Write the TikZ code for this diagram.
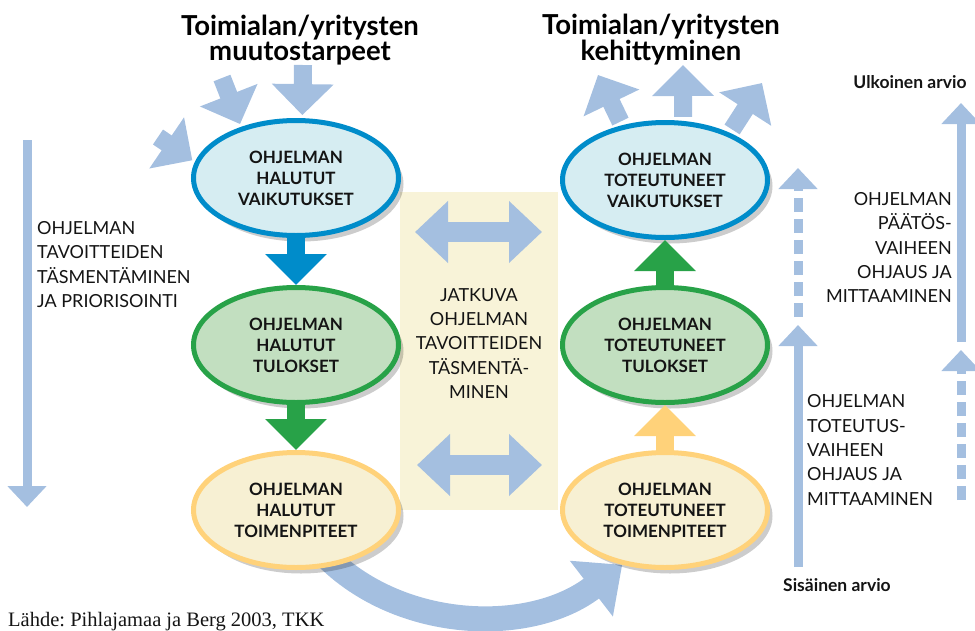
\documentclass[tikz,border=0pt]{standalone}
\usepackage{fontspec}
\setmainfont{Lato}
\newfontfamily\sourcefont{Liberation Serif}
\usetikzlibrary{arrows.meta,
                shapes.geometric,
                shadows}

\definecolor{vaikline}{RGB}{0,140,202}
\definecolor{vaikfill}{RGB}{214,237,242}
\definecolor{tulline}{RGB}{40,162,72}
\definecolor{tulfill}{RGB}{194,223,192}
\definecolor{toimline}{RGB}{255,210,122}
\definecolor{toimfill}{RGB}{247,240,211}
\definecolor{lightarrow}{RGB}{164,191,224}
\definecolor{panelfill}{RGB}{248,243,216}
\definecolor{txt}{RGB}{20,20,20}

\pgfdeclarelayer{bg}
\pgfsetlayers{bg,main}
\frenchspacing

\begin{document}
\begin{tikzpicture}%
    [x = 1pt, y = -1pt,
     goal/.style = {ellipse, line width = 5pt, minimum width = 205pt, minimum height = 115pt,
                    inner sep = 0pt, align = center, text = txt,
                    font = \fontsize{17}{21}\selectfont\bfseries,
                    drop shadow = {shadow xshift = 5pt, shadow yshift = -6pt, opacity = 0.2, fill = black}},
     vaik/.style  = {goal, draw = vaikline, fill = vaikfill},
     tulos/.style = {goal, draw = tulline, fill = tulfill},
     toim/.style  = {goal, draw = toimline, fill = toimfill},
     fat/.style   = {line width = 18pt, -{Triangle[width = 60pt, length = 31pt]}},
     wide/.style  = {fat, lightarrow, shorten > = 3pt},
     both/.style  = {line width = 20pt, lightarrow,
                     {Triangle[width = 60pt, length = 33pt]}-{Triangle[width = 60pt, length = 33pt]}},
     side/.style  = {line width = 9pt, lightarrow, -{Triangle[width = 38pt, length = 21pt]}},
     sidedash/.style = {side, dash pattern = on 14pt off 7pt},
     caps/.style  = {text = txt, inner sep = 0pt, font = \fontsize{18}{24.3}\selectfont},
     arvio/.style = {text = txt, inner sep = 0pt, font = \fontsize{17.5}{17.5}\selectfont\bfseries},
     heading/.style = {text = black, inner sep = 0pt, align = center,
                       font = \fontsize{27.5}{25}\selectfont\bfseries}]
    \useasboundingbox (0,0) rectangle (975,630);

    % halutut
    \node [vaik]  (hvaik) at (296,178) {OHJELMAN\\HALUTUT\\VAIKUTUKSET};
    \node [tulos] (htul)  at (296,345) {OHJELMAN\\HALUTUT\\TULOKSET};
    \node [toim]  (htoim) at (296,510) {OHJELMAN\\HALUTUT\\TOIMENPITEET};
    % toteutuneet
    \node [vaik]  (tvaik) at (665,180) {OHJELMAN\\TOTEUTUNEET\\VAIKUTUKSET};
    \node [tulos] (ttul)  at (665,345) {OHJELMAN\\TOTEUTUNEET\\TULOKSET};
    \node [toim]  (ttoim) at (665,510) {OHJELMAN\\TOTEUTUNEET\\TOIMENPITEET};

    \draw [fat, vaikline] (hvaik) -- (htul);
    \draw [fat, tulline]  (htul) -- (htoim);
    \draw [fat, toimline] (ttoim) -- (ttul);
    \draw [fat, tulline]  (ttul) -- (tvaik);

    \node [heading] (muutos)  at (300,40) {Toimialan/yritysten\\muutostarpeet};
    \node [heading] (kehitys) at (661,40) {Toimialan/yritysten\\kehittyminen};

    % tarpeet sisaan, kehitys ulos
    \coordinate (in1) at (158,137);
    \coordinate (in2) at (222,78);
    \coordinate (in3) at (303,65);
    \draw [wide] (in1) -- (hvaik.171);
    \draw [wide] (in2) -- (hvaik.137);
    \draw [wide] (in3) -- (hvaik.84);
    \coordinate (out1) at (598,75);
    \coordinate (out2) at (683,65);
    \coordinate (out3) at (762,83);
    \draw [wide, shorten > = 0pt, shorten < = 4pt] (tvaik.128) -- (out1);
    \draw [wide, shorten > = 0pt, shorten < = 4pt] (tvaik.73) -- (out2);
    \draw [wide, shorten > = 0pt, shorten < = 4pt] (tvaik.36) -- (out3);

    % vasen reuna
    \coordinate (ltop) at (27,140);
    \coordinate (lbot) at (27,507);
    \draw [side] (ltop) -- (lbot);
    \node [caps, anchor = west, align = left] (tasment) at (37,264.5)
        {OHJELMAN\\TAVOITTEIDEN\\TÄSMENTÄMINEN\\JA PRIORISOINTI};

    % oikea reuna
    \coordinate (sbot) at (798,567);
    \coordinate (smid) at (798,325);
    \coordinate (sdash) at (798,317);
    \coordinate (stop) at (798,168);
    \draw [side] (sbot) -- (smid);
    \draw [sidedash] (sdash) -- (stop);
    \coordinate (ubot) at (961,500);
    \coordinate (umid) at (961,350);
    \coordinate (ulow) at (961,342);
    \coordinate (utop) at (961,103);
    \draw [sidedash] (ubot) -- (umid);
    \draw [side] (ulow) -- (utop);
    \node [caps, anchor = west, align = left] (toteutus) at (807,450)
        {OHJELMAN\\TOTEUTUS-\\VAIHEEN\\OHJAUS JA\\MITTAAMINEN};
    \node [caps, anchor = east, align = right] (paatos) at (952,247.5)
        {OHJELMAN\\PÄÄTÖS-\\VAIHEEN\\OHJAUS JA\\MITTAAMINEN};
    \node [arvio, anchor = west] (sisainen) at (783,585) {Sisäinen arvio};
    \node [arvio] (ulkoinen) at (910,82) {Ulkoinen arvio};

    \node [anchor = base west, inner sep = 0pt, text = txt,
           font = \sourcefont\fontsize{20.5}{20}\selectfont] (lahde) at (8,626)
        {Lähde: Pihlajamaa ja Berg 2003, TKK};

    \begin{pgfonlayer}{bg}
        % jatkuva tasmentaminen
        \fill [panelfill] (400,192) rectangle (558,510);
        \node [caps, align = center] (jatkuva) at (479,343.5)
            {JATKUVA\\OHJELMAN\\TAVOITTEIDEN\\TÄSMENTÄ-\\MINEN};
        \coordinate (dl1) at (415,232);
        \coordinate (dr1) at (542,232);
        \coordinate (dl2) at (417,465);
        \coordinate (dr2) at (542,465);
        \draw [both] (dl1) -- (dr1);
        \draw [both] (dl2) -- (dr2);
        % toimenpiteista toteutukseen
        \draw [line width = 25pt, lightarrow, -{Triangle[width = 68pt, length = 39pt]}]
            ([shift = {(24,40)}]htoim.center) .. controls (395,632) and (530,636) .. (ttoim.-128);
    \end{pgfonlayer}
\end{tikzpicture}
\end{document}
